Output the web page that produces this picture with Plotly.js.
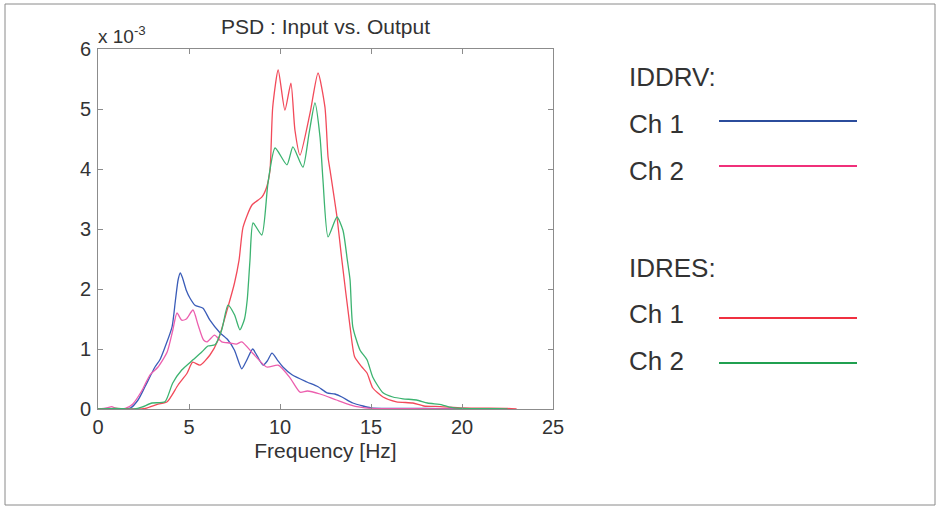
<!DOCTYPE html>
<html>
<head>
<meta charset="utf-8">
<script src="https://cdn.plot.ly/plotly-3.0.1.min.js"></script>
<style>
  html, body { margin: 0; padding: 0; background: #ffffff; }
  #chart { width: 938px; height: 509px; }
</style>
</head>
<body>
<div id="chart"></div>
<script>
// ---- Data (PSD values in units of 1e-3) ----
const chartTitle = "PSD : Input vs. Output";
const xAxisTitle = "Frequency [Hz]";
const yScaleLabel = "x 10<sup>-3</sup>";
const xTickVals = [0, 5, 10, 15, 20, 25];
const yTickVals = [0, 1, 2, 3, 4, 5, 6];

const groupNames = ["IDDRV:", "IDRES:"];
const seriesNames = ["Ch 1", "Ch 2", "Ch 1", "Ch 2"];
const seriesColors = ["#3a5cb8", "#ec5fae", "#f24a5a", "#3cb370"];
const legendColors = ["#2b4c9c", "#f0307a", "#f03040", "#20a050"];

// IDDRV Ch 1 (blue)
const drv1Freq = [0, 0.5, 1.0, 1.5, 1.8, 2.2, 2.58, 3.13, 3.4, 3.68, 4.07, 4.25, 4.4, 4.52, 4.65, 4.85, 5.05, 5.33, 5.77, 6.15, 6.7, 7.14, 7.5, 7.9, 8.15, 8.5, 8.75, 9.07, 9.3, 9.56, 9.85, 10.16, 10.66, 11.48, 12.09, 12.58, 13.02, 13.4, 14.0, 14.56, 15.0, 16.0, 18.0, 20.0, 22.5];
const drv1Psd  = [0, 0.01, 0, 0.005, 0.02, 0.15, 0.37, 0.70, 0.82, 1.03, 1.37, 1.8, 2.15, 2.27, 2.18, 1.98, 1.85, 1.73, 1.68, 1.48, 1.27, 1.15, 0.98, 0.67, 0.8, 1.0, 0.88, 0.73, 0.8, 0.93, 0.82, 0.70, 0.57, 0.45, 0.37, 0.27, 0.25, 0.2, 0.1, 0.05, 0.02, 0.01, 0.01, 0.005, 0];

// IDDRV Ch 2 (pink)
const drv2Freq = [0, 0.5, 0.75, 1.0, 1.5, 1.9, 2.4, 2.86, 3.3, 3.8, 4.1, 4.34, 4.6, 4.85, 5.22, 5.5, 5.8, 6.0, 6.4, 6.8, 7.25, 7.6, 7.9, 8.5, 9.27, 9.9, 10.55, 11.1, 11.5, 12.2, 13.1, 13.85, 14.4, 15.0, 17.0, 20.0];
const drv2Psd  = [0, 0.02, 0.04, 0.01, 0.01, 0.08, 0.3, 0.57, 0.70, 0.95, 1.3, 1.6, 1.48, 1.5, 1.65, 1.4, 1.15, 1.12, 1.23, 1.12, 1.1, 1.08, 1.12, 0.93, 0.70, 0.73, 0.52, 0.28, 0.3, 0.25, 0.15, 0.07, 0.03, 0.01, 0.005, 0];

// IDRES Ch 1 (red)
const res1Freq = [0, 1.0, 2.0, 2.6, 3.3, 3.8, 4.4, 4.9, 5.2, 5.6, 6.15, 6.6, 7.14, 7.5, 7.75, 7.97, 8.46, 9.0, 9.27, 9.45, 9.6, 9.9, 10.27, 10.6, 10.82, 11.1, 11.65, 12.09, 12.47, 12.64, 12.75, 13.13, 13.4, 13.85, 14.1, 14.5, 14.78, 15.1, 15.66, 16.4, 17.3, 17.9, 18.8, 20.0, 21.0, 22.5, 23.0];
const res1Psd  = [0, 0.01, 0, 0.01, 0.08, 0.12, 0.4, 0.6, 0.78, 0.73, 0.9, 1.15, 1.7, 2.1, 2.48, 3.03, 3.4, 3.53, 3.7, 3.98, 5.03, 5.65, 4.98, 5.43, 4.65, 4.23, 4.93, 5.6, 5.03, 4.2, 3.98, 3.2, 2.48, 1.37, 0.87, 0.7, 0.6, 0.35, 0.2, 0.12, 0.1, 0.05, 0.04, 0.02, 0.015, 0.01, 0];

// IDRES Ch 2 (green)
const res2Freq = [0, 1.0, 2.0, 2.4, 2.97, 3.68, 4.1, 4.6, 5.22, 5.7, 6.04, 6.43, 6.8, 7.14, 7.5, 7.8, 8.05, 8.2, 8.35, 8.52, 9.0, 9.34, 9.73, 10.38, 10.71, 11.26, 11.6, 11.92, 12.2, 12.36, 12.64, 13.13, 13.46, 13.7, 13.85, 14.0, 14.4, 14.78, 15.1, 15.66, 16.2, 16.76, 17.5, 18.1, 18.9, 19.3, 20.0, 22.0, 22.5];
const res2Psd  = [0, 0.01, 0, 0.03, 0.1, 0.12, 0.43, 0.65, 0.82, 0.95, 1.05, 1.07, 1.32, 1.73, 1.57, 1.32, 1.5, 1.82, 2.48, 3.1, 2.9, 3.77, 4.35, 4.07, 4.37, 4.03, 4.6, 5.1, 4.53, 3.82, 2.87, 3.2, 2.98, 2.48, 2.15, 1.37, 0.98, 0.82, 0.53, 0.27, 0.2, 0.17, 0.15, 0.1, 0.07, 0.03, 0.01, 0.005, 0];

const seriesX = [drv1Freq, drv2Freq, res1Freq, res2Freq];
const seriesY = [drv1Psd, drv2Psd, res1Psd, res2Psd];

// ---- Geometry helpers (plot area: x 98..553, y 49..409 px) ----
const W = 938, H = 509;
const L = 98, R = 553, T = 49, B = 409;
const px2x = p => (p - L) / (R - L);
const py2y = p => (B - p) / (B - T);

const FONT = "Liberation Sans, Arial, Helvetica, sans-serif";
const TXT = "#333333";

const traces = seriesX.map((xs, i) => ({
  x: xs,
  y: seriesY[i],
  type: "scatter",
  mode: "lines",
  name: (i < 2 ? groupNames[0] : groupNames[1]) + " " + seriesNames[i],
  line: { color: seriesColors[i], width: 1.3, shape: "spline", smoothing: 0.6 },
  showlegend: false,
  hoverinfo: "x+y+name"
}));

const annotations = [
  {
    text: yScaleLabel, xref: "paper", yref: "paper",
    x: px2x(96), y: py2y(35), xanchor: "left", yanchor: "middle",
    showarrow: false, font: { family: FONT, size: 19, color: TXT }
  }
];
const shapes = [
  { type: "rect", xref: "paper", yref: "paper",
    x0: px2x(5), x1: px2x(935), y0: py2y(505), y1: py2y(4),
    line: { color: "#8a8a8a", width: 1 }, fillcolor: "rgba(0,0,0,0)", layer: "below" }
];

// custom legend: group headers, labels and sample lines
const legendTextX = px2x(627);
const legendLineX0 = px2x(719), legendLineX1 = px2x(857);
const groupY = [77, 268];
const labelY = [124, 171, 314, 361];
const lineY = [121, 166, 318, 363];
groupNames.forEach((g, k) => {
  annotations.push({
    text: g, xref: "paper", yref: "paper", x: legendTextX, y: py2y(groupY[k]),
    xanchor: "left", yanchor: "middle", showarrow: false,
    font: { family: FONT, size: 26, color: TXT }
  });
});
seriesNames.forEach((n, i) => {
  annotations.push({
    text: n, xref: "paper", yref: "paper", x: legendTextX, y: py2y(labelY[i]),
    xanchor: "left", yanchor: "middle", showarrow: false,
    font: { family: FONT, size: 26, color: TXT }
  });
  shapes.push({
    type: "line", xref: "paper", yref: "paper",
    x0: legendLineX0, x1: legendLineX1, y0: py2y(lineY[i]), y1: py2y(lineY[i]),
    line: { color: legendColors[i], width: 2.2 }
  });
});

const axisCommon = {
  showgrid: false, zeroline: false,
  showline: true, mirror: "ticks", linecolor: "#8c8c8c", linewidth: 1,
  ticks: "inside", ticklen: 5, tickcolor: "#8c8c8c",
  tickfont: { family: FONT, size: 20, color: TXT },
  fixedrange: true
};

const layout = {
  width: W, height: H,
  margin: { l: L, r: W - R, t: T, b: H - B, pad: 0 },
  paper_bgcolor: "#ffffff",
  plot_bgcolor: "#ffffff",
  title: {
    text: chartTitle, xref: "paper", x: 0.5, xanchor: "center",
    yref: "container", y: 1 - 27 / H, yanchor: "middle",
    font: { family: FONT, size: 21, color: TXT }
  },
  xaxis: Object.assign({}, axisCommon, {
    range: [0, 25], tickvals: xTickVals, ticktext: xTickVals.map(String),
    title: { text: xAxisTitle, standoff: 6, font: { family: FONT, size: 21, color: TXT } }
  }),
  yaxis: Object.assign({}, axisCommon, {
    range: [0, 6], tickvals: yTickVals, ticktext: yTickVals.map(String),
    ticklabelstandoff: 2
  }),
  annotations: annotations,
  shapes: shapes,
  showlegend: false
};

Plotly.newPlot("chart", traces, layout, { displayModeBar: false, staticPlot: true });
</script>
</body>
</html>
